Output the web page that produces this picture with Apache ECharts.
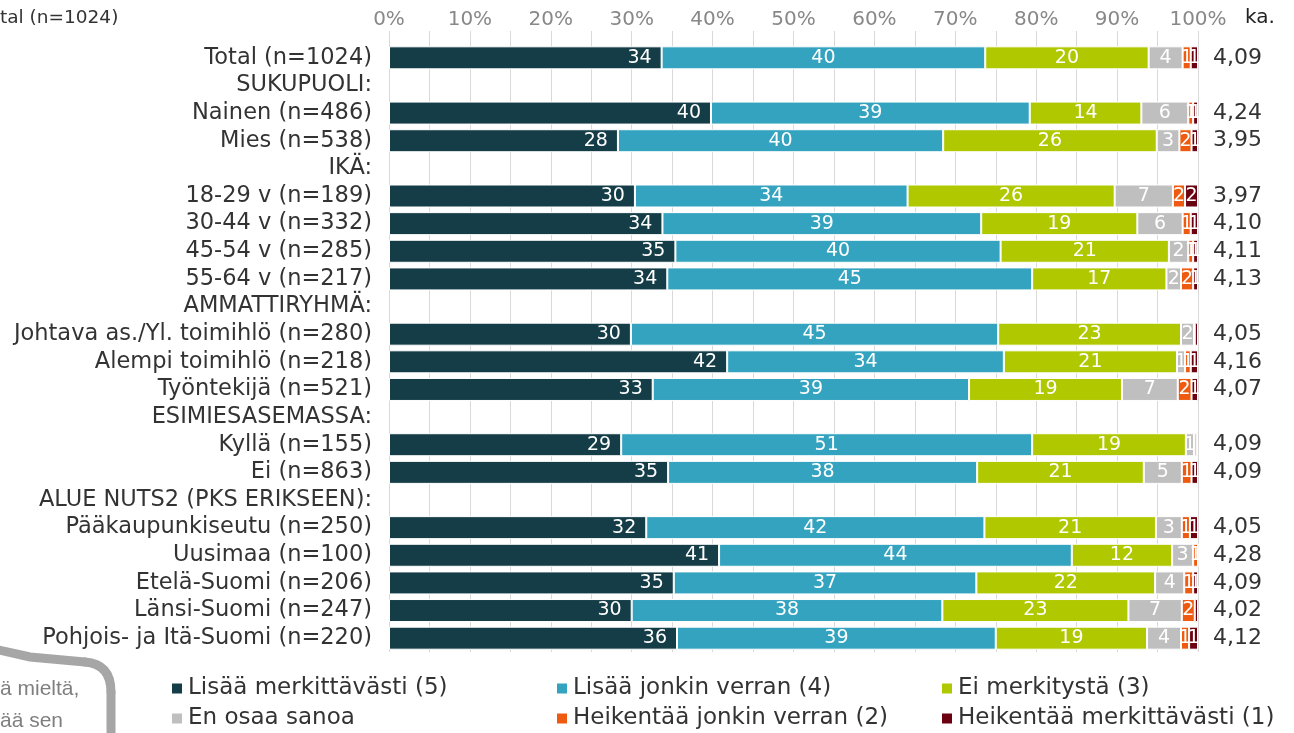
<!DOCTYPE html>
<html>
<head>
<meta charset="utf-8">
<script src="https://cdn.jsdelivr.net/npm/echarts@6/dist/echarts.min.js"></script>
<style>
  html, body { margin: 0; padding: 0; background: #fff; }
  #chart { width: 1294px; height: 733px; }
</style>
</head>
<body>
<div id="chart"></div>
<script>
// rivit (otsikkorivit ilman palkkia)
const categories = [
  'Total (n=1024)', 'SUKUPUOLI:', 'Nainen (n=486)', 'Mies (n=538)',
  'IKÄ:', '18-29 v (n=189)', '30-44 v (n=332)', '45-54 v (n=285)', '55-64 v (n=217)',
  'AMMATTIRYHMÄ:', 'Johtava as./Yl. toimihlö (n=280)', 'Alempi toimihlö (n=218)', 'Työntekijä (n=521)',
  'ESIMIESASEMASSA:', 'Kyllä (n=155)', 'Ei (n=863)',
  'ALUE NUTS2 (PKS ERIKSEEN):', 'Pääkaupunkiseutu (n=250)', 'Uusimaa (n=100)',
  'Etelä-Suomi (n=206)', 'Länsi-Suomi (n=247)', 'Pohjois- ja Itä-Suomi (n=220)'
];

const seriesNames = [
  'Lisää merkittävästi (5)', 'Lisää jonkin verran (4)', 'Ei merkitystä (3)',
  'En osaa sanoa', 'Heikentää jonkin verran (2)', 'Heikentää merkittävästi (1)'
];

// prosentit
const lisaaPaljon  = [33.7, null, 39.8, 28.3, null, 30.4, 33.8, 35.4, 34.4, null, 29.9, 41.8, 32.6, null, 28.7, 34.5, null, 31.8, 40.8, 35.2, 30.0, 35.6];
const lisaaJonkin  = [40.0, null, 39.4, 40.2, null, 33.7, 39.4, 40.2, 45.1, null, 45.4, 34.2, 39.1, null, 50.8, 38.2, null, 41.8, 43.6, 37.4, 38.4, 39.4];
const eiMerkitysta = [20.2, null, 13.8, 26.4, null, 25.6, 19.3, 20.8, 16.6, null, 22.6, 21.4, 18.9, null, 19.0, 20.6, null, 21.2, 12.4, 22.1, 23.0, 18.7];
const enOsaa       = [4.2,  null, 5.8,  2.8,  null, 7.2,  5.6,  2.4,  1.8,  null, 1.6,  1.0,  6.9,  null, 1.0,  4.7,  null, 3.2,  2.6,  3.6,  6.6,  4.2];
const heikJonkin   = [1.0,  null, 0.6,  1.5,  null, 1.5,  1.0,  0.6,  1.5,  null, 0.1,  0.7,  1.7,  null, 0.3,  1.2,  null, 1.0,  0.6,  1.1,  1.6,  1.0];
const heikPaljon   = [0.9,  null, 0.6,  0.8,  null, 1.6,  0.9,  0.6,  0.6,  null, 0.4,  0.9,  0.8,  null, 0.2,  0.8,  null, 1.0,  0,    0.6,  0.4,  1.1];

// keskiarvot (ka.)
const averages = ['4,09', '', '4,24', '3,95', '', '3,97', '4,10', '4,11', '4,13', '', '4,05', '4,16', '4,07', '', '4,09', '4,09', '', '4,05', '4,28', '4,09', '4,02', '4,12'];

const seriesData = [lisaaPaljon, lisaaJonkin, eiMerkitysta, enOsaa, heikJonkin, heikPaljon];
const colors = ['#153d47', '#33a3bf', '#b0c800', '#bfbfbf', '#ee5a0f', '#6b0010'];

const font = 'DejaVu Sans, Verdana, sans-serif';

const chart = echarts.init(document.getElementById('chart'));

const legendPos = [
  [170, 677], [555, 677], [940, 677],
  [170, 707], [555, 707], [940, 707]
];

const boxLine = { fill: null, stroke: '#a6a6a6', lineWidth: 9, lineCap: 'round' };

const option = {
  animation: false,
  color: colors,
  textStyle: { fontFamily: font },
  grid: [
    { left: 389, right: 96, top: 44, height: 608 },
    { left: 389, right: 96, top: 31, height: 13 } // vain akselin tekstit ylhäällä
  ],
  xAxis: [
    {
      type: 'value', gridIndex: 0, min: 0, max: 100, interval: 5,
      axisLabel: { show: false },
      axisLine: { show: false },
      axisTick: { show: false },
      splitLine: { lineStyle: { color: '#d9d9d9', width: 1 } }
    },
    {
      type: 'value', gridIndex: 1, min: 0, max: 100, interval: 5, position: 'top',
      axisLabel: {
        color: '#888', fontSize: 20, margin: 1, fontFamily: font,
        formatter: (v) => (v % 10 === 0 ? v + '%' : '')
      },
      axisLine: { show: false },
      axisTick: { show: false },
      splitLine: { lineStyle: { color: '#d9d9d9', width: 1 } }
    }
  ],
  yAxis: [
    {
      type: 'category', gridIndex: 0, inverse: true, data: categories,
      axisLine: { show: false },
      axisTick: { show: false },
      axisLabel: { interval: 0, color: '#333', fontSize: 22.5, margin: 17, fontFamily: font }
    },
    {
      type: 'category', gridIndex: 0, inverse: true, position: 'right', data: categories,
      axisLine: { show: false },
      axisTick: { show: false },
      axisLabel: {
        interval: 0, color: '#333', fontSize: 22, margin: 15, fontFamily: font, align: 'left',
        formatter: (v, i) => averages[i]
      }
    },
    { type: 'category', gridIndex: 1, show: false, data: [''] }
  ],
  legend: seriesNames.map((n, i) => ({
    data: [n],
    left: legendPos[i][0],
    top: legendPos[i][1],
    padding: 0,
    itemWidth: 12,
    itemHeight: 12,
    itemGap: 0,
    icon: 'rect',
    selectedMode: false,
    textStyle: { color: '#333', fontSize: 23, fontFamily: font }
  })),
  graphic: [
    {
      type: 'text', x: 0, y: 9,
      style: { text: 'tal (n=1024)', fill: '#333', font: '18.5px ' + font }
    },
    {
      type: 'text', x: 1245, y: 8,
      style: { text: 'ka.', fill: '#222', font: '20px ' + font }
    },
    {
      type: 'polyline',
      shape: { points: [[-10, 648], [30, 657], [85, 662]] },
      style: boxLine
    },
    {
      type: 'bezierCurve',
      shape: { x1: 85, y1: 662, cpx1: 111, cpy1: 664, x2: 111, y2: 692 },
      style: boxLine
    },
    {
      type: 'line',
      shape: { x1: 111, y1: 692, x2: 111, y2: 745 },
      style: boxLine
    },
    {
      type: 'text', x: 0, y: 679,
      style: { text: 'ä mieltä,', fill: '#7f7f7f', font: '21px Liberation Sans, Arial, sans-serif' }
    },
    {
      type: 'text', x: 0, y: 711,
      style: { text: 'ää sen', fill: '#7f7f7f', font: '21px Liberation Sans, Arial, sans-serif' }
    }
  ],
  series: seriesNames.map((n, i) => ({
    name: n,
    type: 'bar',
    stack: 'yht',
    xAxisIndex: 0,
    yAxisIndex: 0,
    barWidth: 23,
    data: seriesData[i],
    itemStyle: { borderColor: '#fff', borderWidth: 1 },
    label: {
      show: true,
      position: i === 0 ? 'insideRight' : 'inside',
      distance: 10,
      color: '#fff',
      fontSize: 19,
      fontFamily: font,
      formatter: (p) => {
        const r = Math.round(p.value);
        return r >= 1 ? String(r) : '';
      }
    }
  }))
};

chart.setOption(option);
</script>
</body>
</html>
